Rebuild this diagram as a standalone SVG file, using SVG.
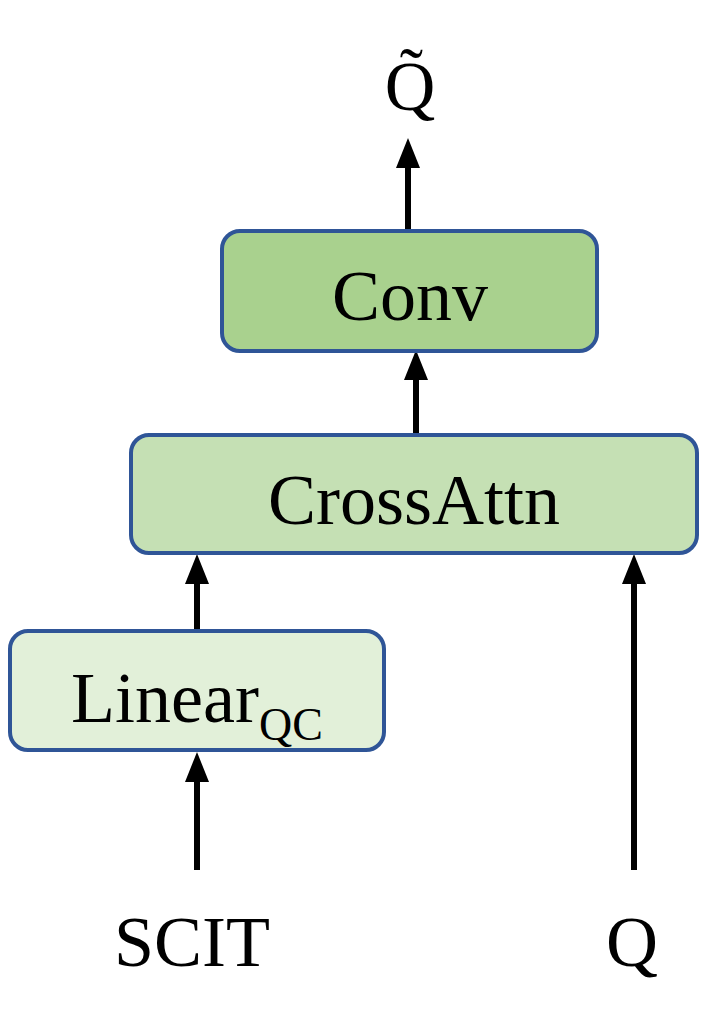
<svg xmlns="http://www.w3.org/2000/svg" width="712" height="1036" viewBox="0 0 712 1036">
<style>
.box{stroke:#2f5597;stroke-width:4}
.t{font-family:"Liberation Serif",serif;fill:#000;text-anchor:middle}
.c{stroke:#000;stroke-width:6;fill:none;marker-end:url(#ah)}
</style>
<defs>
<marker id="ah" markerWidth="8" markerHeight="10" refX="1" refY="5" orient="auto" markerUnits="userSpaceOnUse" viewBox="0 0 8 10">
<path d="M0,0 L8,5 L0,10 Z" fill="#000"/>
</marker>
<marker id="ah2" viewBox="0 0 30 24" refX="0" refY="12" markerWidth="30" markerHeight="24" markerUnits="userSpaceOnUse" orient="auto"><path d="M0,0 L30,12 L0,24 Z" fill="#000"/></marker>
</defs>
<rect width="712" height="1036" fill="#fff"/>
<g id="connectors">
<line x1="408" y1="231" x2="408" y2="168" stroke="#000" stroke-width="6" marker-end="url(#ah2)"/>
<line x1="416" y1="435" x2="416" y2="380" stroke="#000" stroke-width="6" marker-end="url(#ah2)"/>
<line x1="197" y1="631" x2="197" y2="584" stroke="#000" stroke-width="6" marker-end="url(#ah2)"/>
<line x1="197" y1="870" x2="197" y2="782" stroke="#000" stroke-width="6" marker-end="url(#ah2)"/>
<line x1="634" y1="870" x2="634" y2="584" stroke="#000" stroke-width="6" marker-end="url(#ah2)"/>
</g>
<g id="qtilde"><text class="t" x="410" y="110" font-size="70">Q̃</text></g>
<g id="conv"><rect class="box" x="222" y="231" width="375" height="120" rx="18" fill="#a9d18e"/><text class="t" x="410" y="320" font-size="72">Conv</text></g>
<g id="crossattn"><rect class="box" x="131" y="435" width="566" height="118" rx="18" fill="#c5e0b4"/><text class="t" x="414" y="524" font-size="72">CrossAttn</text></g>
<g id="linear"><rect class="box" x="10" y="631" width="374" height="119" rx="18" fill="#e2f0d9"/><text class="t" x="197" y="722" font-size="72">Linear<tspan font-size="46" dy="18">QC</tspan></text></g>
<g id="scit"><text class="t" x="192" y="966" font-size="72">SCIT</text></g>
<g id="q"><text class="t" x="632" y="966" font-size="72">Q</text></g>
</svg>
